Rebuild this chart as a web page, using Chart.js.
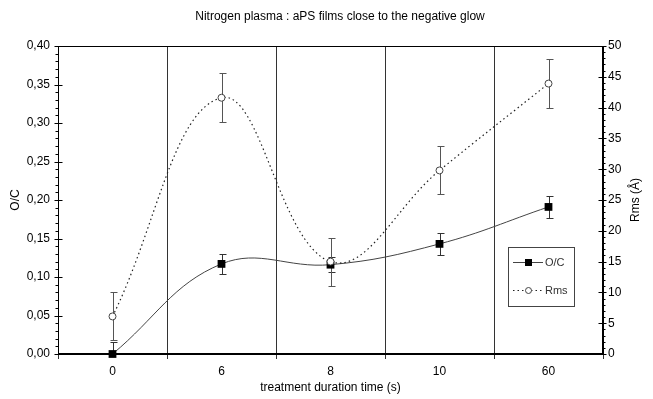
<!DOCTYPE html>
<html><head><meta charset="utf-8">
<script src="https://cdn.jsdelivr.net/npm/chart.js@4/dist/chart.umd.min.js"></script>
<style>html,body{margin:0;padding:0;background:#fff}#wrap{width:653px;height:399px;position:relative}</style>
</head><body><div id="wrap"><canvas id="c" width="653" height="399"></canvas></div>
<script>
const chartTitle = 'Nitrogen plasma : aPS films close to the negative glow';
const categories = ['0', '6', '8', '10', '60'];
const ocValues = [0.000, 0.117, 0.116, 0.143, 0.191];
const ocErrors = [0.015, 0.013, 0.010, 0.014, 0.014];
const rmsValues = [6.1, 41.6, 15.0, 29.8, 43.9];
const rmsErrors = [3.9, 4.0, 3.9, 3.9, 4.0];
const ocTickLabels = ['0,00','0,05','0,10','0,15','0,20','0,25','0,30','0,35','0,40'];
const rmsTickLabels = ['0','5','10','15','20','25','30','35','40','45','50'];

const FONT = "'Liberation Sans', Arial, sans-serif";

const boxPlugin = {
  id: 'box',
  beforeDatasetsDraw(chart) {
    const ctx = chart.ctx;
    const ys = chart.scales.y, y1 = chart.scales.y1, xs = chart.scales.x;
    const drawErr = (vals, errs, scale, color) => {
      ctx.save();
      ctx.strokeStyle = color; ctx.lineWidth = 1;
      vals.forEach((v, i) => {
        const x = Math.round(xs.getPixelForValue(i)) + 0.5;
        const top = Math.round(scale.getPixelForValue(v + errs[i])) + 0.5;
        const lo = Math.max(scale.min, v - errs[i]);
        const bot = Math.round(scale.getPixelForValue(lo)) + 0.5;
        ctx.beginPath();
        ctx.moveTo(x, top); ctx.lineTo(x, bot);
        ctx.moveTo(x - 3, top); ctx.lineTo(x + 4, top);
        if (lo > scale.min) { ctx.moveTo(x - 3, bot); ctx.lineTo(x + 4, bot); }
        ctx.stroke();
      });
      ctx.restore();
    };
    drawErr(ocValues, ocErrors, ys, '#333');
    drawErr(rmsValues, rmsErrors, y1, '#555');
  },
  afterDraw(chart) {
    const ctx = chart.ctx;
    const a = chart.chartArea;
    const ys = chart.scales.y, y1 = chart.scales.y1;
    ctx.save();
    ctx.strokeStyle = '#000'; ctx.lineWidth = 1;
    const L = Math.round(a.left) + 0.5, R = Math.round(a.right) - 0.5;
    const T = Math.round(a.top) + 0.5, B = Math.round(a.bottom) - 0.5;
    ctx.strokeRect(L, T, R - L, B - T);
    ctx.beginPath();
    for (let k = 0; k <= 40; k++) {
      const y = Math.round(ys.getPixelForValue(k / 100)) + 0.5;
      if (k % 5 === 0) { ctx.moveTo(L - 4, y); ctx.lineTo(L + 4, y); }
      else { ctx.moveTo(L - 3, y); ctx.lineTo(L, y); }
    }
    for (let k = 0; k <= 50; k++) {
      const y = Math.round(y1.getPixelForValue(k)) + 0.5;
      if (k % 5 === 0) { ctx.moveTo(R - 4, y); ctx.lineTo(R + 4, y); }
      else { ctx.moveTo(R, y); ctx.lineTo(R + 3, y); }
    }
    ctx.stroke();
    ctx.fillStyle = '#000';
    ctx.font = '12px ' + FONT;
    ctx.textAlign = 'center'; ctx.textBaseline = 'middle';
    ctx.fillText(chartTitle, 340, 17);
    // right axis title, reading bottom to top
    ctx.save();
    ctx.translate(636, (a.top + a.bottom) / 2);
    ctx.rotate(-Math.PI / 2);
    ctx.fillText('Rms (Å)', 0, 0);
    ctx.restore();
    // legend
    const lx = 508, ly = 247, lw = 66, lh = 59;
    ctx.fillStyle = '#fff';
    ctx.fillRect(lx, ly, lw, lh);
    ctx.strokeStyle = '#444';
    ctx.strokeRect(lx + 0.5, ly + 0.5, lw, lh);
    ctx.strokeStyle = '#444'; ctx.lineWidth = 1;
    ctx.beginPath(); ctx.moveTo(513, 262.5); ctx.lineTo(543, 262.5); ctx.stroke();
    ctx.fillStyle = '#000';
    ctx.fillRect(525, 259, 7, 7);
    ctx.save();
    ctx.setLineDash([1.5, 3]);
    ctx.strokeStyle = '#222';
    ctx.beginPath(); ctx.moveTo(513, 290.5); ctx.lineTo(543, 290.5); ctx.stroke();
    ctx.restore();
    ctx.fillStyle = '#fff'; ctx.strokeStyle = '#444';
    ctx.beginPath(); ctx.arc(528.5, 290.5, 3, 0, Math.PI * 2); ctx.fill(); ctx.stroke();
    ctx.fillStyle = '#333';
    ctx.font = '11px ' + FONT;
    ctx.textAlign = 'left';
    ctx.fillText('O/C', 545, 263);
    ctx.fillText('Rms', 545, 291);
    ctx.restore();
  }
};

new Chart(document.getElementById('c'), {
  type: 'line',
  data: {
    labels: categories,
    datasets: [
      {
        label: 'O/C', data: ocValues, yAxisID: 'y',
        borderColor: '#444', borderWidth: 1, tension: 0.4,
        pointStyle: 'rect', pointRadius: 5.5, pointBackgroundColor: '#000', pointBorderColor: '#000', pointBorderWidth: 0,
        order: 2
      },
      {
        label: 'Rms', data: rmsValues, yAxisID: 'y1',
        borderColor: '#222', borderWidth: 1.2, borderDash: [1.5, 3], tension: 0.4,
        pointStyle: 'circle', pointRadius: 3.5, pointBackgroundColor: '#fff', pointBorderColor: '#444', pointBorderWidth: 1,
        order: 1
      }
    ]
  },
  options: {
    responsive: false, animation: false, devicePixelRatio: 1,
    layout: { padding: { top: 46 } },
    clip: false,
    plugins: { legend: { display: false }, title: { display: false }, tooltip: { enabled: false } },
    scales: {
      x: {
        type: 'category', offset: true,
        grid: { offset: true, color: '#333', lineWidth: 1, drawTicks: true, tickLength: 5 },
        border: { display: true, color: '#000' },
        ticks: { color: '#000', font: { family: FONT, size: 12 }, padding: 5, maxRotation: 0 },
        title: { display: true, text: 'treatment duration time (s)', color: '#000', font: { family: FONT, size: 12 }, padding: { top: 2, bottom: 4 } },
        afterFit: s => { s.height = 45; }
      },
      y: {
        position: 'left', min: 0, max: 0.4,
        grid: { drawOnChartArea: false, drawTicks: false },
        border: { display: true, color: '#000' },
        ticks: { stepSize: 0.05, color: '#000', font: { family: FONT, size: 12 }, padding: 8,
          callback: (v, i) => ocTickLabels[i] },
        title: { display: true, text: 'O/C', color: '#000', font: { family: FONT, size: 12 }, padding: { top: 8, bottom: 4 } },
        afterFit: s => { s.width = 58; }
      },
      y1: {
        position: 'right', min: 0, max: 50,
        grid: { drawOnChartArea: false, drawTicks: false },
        border: { display: true, color: '#000' },
        ticks: { stepSize: 5, color: '#000', font: { family: FONT, size: 12 }, padding: 5,
          callback: (v, i) => rmsTickLabels[i] },
        title: { display: false },
        afterFit: s => { s.width = 50; }
      }
    }
  },
  plugins: [boxPlugin]
});
</script>
</body></html>
